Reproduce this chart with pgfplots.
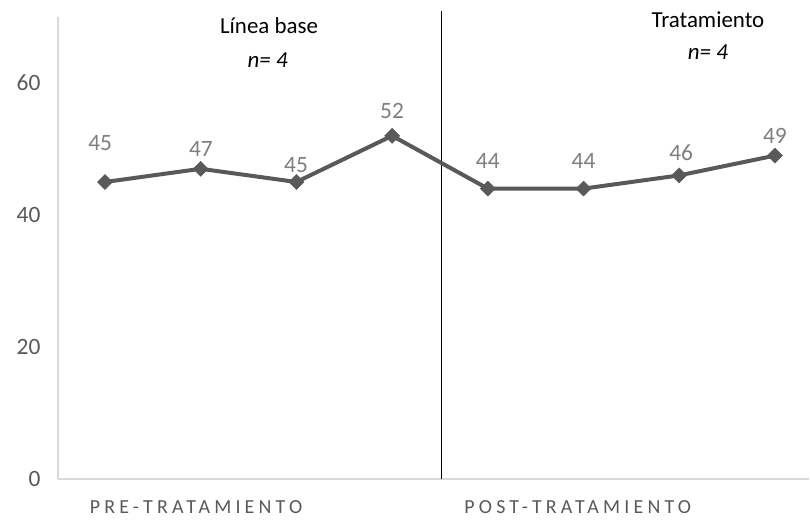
\documentclass[border=0pt]{standalone}
\usepackage{fontspec}
\setmainfont{Carlito}
\usepackage{pgfplots}
\pgfplotsset{compat=1.18}
\definecolor{serie}{HTML}{595959}
\definecolor{lbl}{HTML}{7F7F7F}
\definecolor{axgray}{HTML}{D9D9D9}
\begin{document}
\begin{tikzpicture}
\useasboundingbox (0,0) rectangle (810bp,520bp);
\begin{axis}[
  at={(58bp,41bp)}, anchor=south west,
  scale only axis, width=751bp, height=462bp,
  xmin=-0.491, xmax=7.356, ymin=0, ymax=70,
  axis lines=left,
  axis line style={axgray, line width=1.3bp, -},
  ytick={0,20,40,60},
  major tick length=0,
  xtick={0.951,4.94},
  xticklabels={PRE-TRATAMIENTO,POST-TRATAMIENTO},
  yticklabel style={font=\fontsize{23.5}{27}\selectfont, text=serie, anchor=east, xshift=-14bp},
  xticklabel style={font=\fontsize{20}{23}\selectfont\addfontfeature{LetterSpace=21}, text=serie, anchor=center, yshift=-28bp},
  /pgf/number format/assume math mode=true,
  clip=false,
]
\draw[black, line width=1bp] (axis cs:3.52,0) -- (axis cs:3.52,70.9);
\addplot[serie, line width=4bp, mark=square*, mark size=5.3bp,
  mark options={rotate=45, line width=0.5bp, fill=serie}]
  coordinates {(0,45) (1,47) (2,45) (3,52) (4,44) (5,44) (6,46) (7,49)};
\begin{scope}[every node/.style={font=\fontsize{23.5}{27}\selectfont, text=lbl, anchor=center, inner sep=0pt}]
\node at (axis cs:-0.05,50.9) {45};
\node at (axis cs:1.003,50.0) {47};
\node at (axis cs:1.996,47.6) {45};
\node at (axis cs:3.0,55.8) {52};
\node at (axis cs:4.0,48.2) {44};
\node at (axis cs:5.0,48.2) {44};
\node at (axis cs:6.02,49.4) {46};
\node at (axis cs:7.0,52.0) {49};
\end{scope}
\begin{scope}[every node/.style={font=\fontsize{23}{27}\selectfont, text=black, anchor=center, inner sep=0pt}]
\node at (axis cs:1.714,68.7) {Línea base};
\node at (axis cs:1.70,63.5) {\itshape n= 4};
\node at (axis cs:6.30,69.6) {Tratamiento};
\node at (axis cs:6.30,64.6) {\itshape n= 4};
\end{scope}
\end{axis}
\end{tikzpicture}
\end{document}
